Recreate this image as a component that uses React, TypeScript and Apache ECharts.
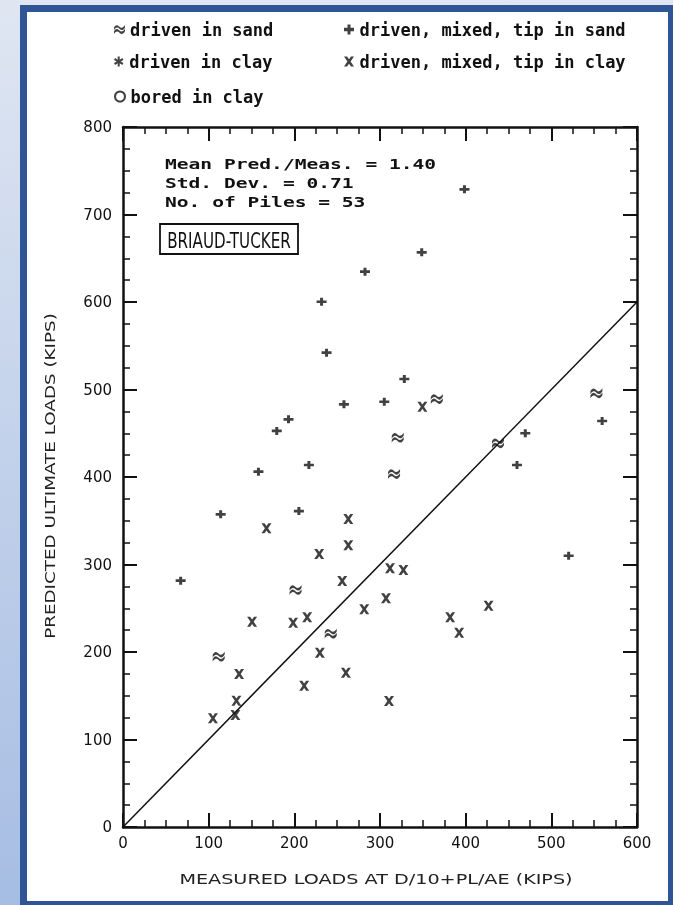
import React, { useEffect, useRef } from 'react';
import * as echarts from 'echarts';

// ---- data (measured load, predicted load) in kips ----
const drivenInSand: number[][] = [
  [111.7, 194.6], [201.4, 270.9], [242.5, 221], [320.7, 444.9],
  [316.4, 403.4], [366.3, 489.1], [437.7, 438.5], [552.6, 495.6],
];
const drivenInClay: number[][] = [];
const boredInClay: number[][] = [];
const mixedTipInSand: number[][] = [
  [67.3, 281.5], [114, 357.4], [158.1, 406.1], [179.5, 452.6], [193.2, 465.9],
  [205.3, 361.1], [217, 413.7], [231.8, 600.3], [237.6, 542.1], [257.9, 483.1],
  [282.5, 634.6], [305, 486], [328.4, 512], [348.7, 656.8], [398.6, 728.8],
  [469.6, 450], [459.9, 413.7], [559.3, 464], [520.2, 310],
];
const mixedTipInClay: number[][] = [
  [105, 124.2], [131.2, 128], [132.4, 144.4], [135.5, 174.9], [150.7, 234.6],
  [167.5, 341.4], [198.6, 233.5], [211.5, 161.5], [215, 239.7], [229.8, 199.2],
  [229, 312], [255.9, 281.1], [260.2, 176.3], [263, 352], [263, 322],
  [281.6, 249], [307, 261.4], [311.7, 295.7], [310.5, 144], [327.3, 293.7],
  [349.5, 480.4], [381.9, 239.7], [392.4, 222.1], [426.7, 253],
];
const equalityLine: number[][] = [[0, 0], [600, 600]];

const seriesNames = [
  'driven in sand',
  'driven, mixed, tip in sand',
  'driven in clay',
  'driven, mixed, tip in clay',
  'bored in clay',
];
const statsLines = ['Mean Pred./Meas. = 1.40', 'Std. Dev. = 0.71', 'No. of Piles = 53'];
const methodLabel = 'BRIAUD-TUCKER';
const xTitle = 'MEASURED LOADS AT D/10+PL/AE (KIPS)';
const yTitle = 'PREDICTED ULTIMATE LOADS (KIPS)';

const INK = '#111';
const MONO = '"DejaVu Sans Mono", "Liberation Mono", monospace';
const SANS = '"DejaVu Sans", sans-serif';

const SYM_SAND =
  'path://M0,4C2,0 4,1 6,3C8,5 10,4 12,1V3.8C10,7.3 8,7.3 6,5.3C4,3.3 2,3.3 0,6.8Z M0,8.2C2,4.2 4,5.2 6,7.2C8,9.2 10,8.2 12,5.2V8C10,11.5 8,11.5 6,9.5C4,7.5 2,7.5 0,11Z';
const SYM_PLUS = 'path://M3.5,0H6.5V3.3H10V6.7H6.5V10H3.5V6.7H0V3.3H3.5Z';
const SYM_X = 'path://M0,0H3L5,2.8L7,0H10L6.6,5L10,10H7L5,7.2L3,10H0L3.4,5Z';
const SYM_STAR =
  'path://M4,0H6V3.3L8.7,1.6L9.7,3.4L7,5L9.7,6.6L8.7,8.4L6,6.7V10H4V6.7L1.3,8.4L0.3,6.6L3,5L0.3,3.4L1.3,1.6L4,3.3Z';

export default function App() {
  const ref = useRef<HTMLDivElement>(null);

  useEffect(() => {
    if (!ref.current) return;
    const chart = echarts.init(ref.current, undefined, { renderer: 'svg' });

    const axisCommon = {
      type: 'value' as const,
      min: 0,
      interval: 100,
      splitLine: { show: false },
      axisLine: { show: true, onZero: false, lineStyle: { color: INK, width: 2.5 } },
      axisTick: { show: true, inside: true, length: 14, lineStyle: { color: INK, width: 2 } },
      minorTick: { show: true, splitNumber: 4, length: 7, lineStyle: { color: INK, width: 1.5 } },
    };
    const labelStyle = { fontFamily: SANS, fontSize: 15, color: INK };

    const legendPos = [
      [114, 21], [344, 21],
      [114, 53], [344, 53],
      [114, 88],
    ];

    chart.setOption({
      animation: false,
      grid: { left: 123, right: 36, top: 127, bottom: 78, containLabel: false },
      xAxis: [
        { ...axisCommon, max: 600, position: 'bottom', axisLabel: { ...labelStyle, margin: 8 } },
        { ...axisCommon, max: 600, position: 'top', axisLabel: { show: false } },
      ],
      yAxis: [
        { ...axisCommon, max: 800, position: 'left', axisLabel: { ...labelStyle, margin: 11 } },
        { ...axisCommon, max: 800, position: 'right', axisLabel: { show: false } },
      ],
      legend: seriesNames.map((n, i) => ({
        data: [n],
        left: legendPos[i][0],
        top: legendPos[i][1],
        padding: 0,
        itemWidth: 11,
        itemHeight: 10,
        selectedMode: false,
        textStyle: { fontFamily: MONO, fontWeight: 'bold', fontSize: 17, color: INK },
      })),
      series: [
        {
          name: '1:1',
          type: 'line',
          data: equalityLine,
          symbol: 'none',
          lineStyle: { color: INK, width: 1.5 },
          z: 1,
          silent: true,
        },
        {
          name: seriesNames[0], type: 'scatter', data: drivenInSand,
          symbol: SYM_SAND, symbolSize: [12, 10], itemStyle: { color: INK }, z: 3,
        },
        {
          name: seriesNames[1], type: 'scatter', data: mixedTipInSand,
          symbol: SYM_PLUS, symbolSize: [10, 8], itemStyle: { color: INK }, z: 3,
        },
        {
          name: seriesNames[2], type: 'scatter', data: drivenInClay,
          symbol: SYM_STAR, symbolSize: 8, itemStyle: { color: INK }, z: 3,
        },
        {
          name: seriesNames[3], type: 'scatter', data: mixedTipInClay,
          symbol: SYM_X, symbolSize: [10, 10], itemStyle: { color: INK }, z: 3,
        },
        {
          name: seriesNames[4], type: 'scatter', data: boredInClay,
          symbol: 'emptyCircle', symbolSize: 8, itemStyle: { color: INK, borderWidth: 2 }, z: 3,
        },
      ],
      graphic: [
        {
          type: 'rect', z: -200, silent: true,
          shape: { x: 0, y: 0, width: 673, height: 905 },
          style: {
            fill: {
              type: 'linear', x: 0, y: 0, x2: 0, y2: 1,
              colorStops: [
                { offset: 0, color: '#dfe6f2' },
                { offset: 1, color: '#a6bde3' },
              ],
            },
          },
        },
        {
          type: 'rect', z: -100, silent: true,
          shape: { x: 23.5, y: 8.5, width: 648, height: 896 },
          style: { fill: '#ffffff', stroke: '#2f5597', lineWidth: 7 },
        },
        ...statsLines.map((t, i) => ({
          type: 'text', x: 165, y: 164 + i * 19, scaleX: 1.4, silent: true,
          style: {
            text: t, fill: INK, font: `bold 14px ${MONO}`,
            textAlign: 'left', textVerticalAlign: 'middle',
          },
        })),
        {
          type: 'rect', silent: true,
          shape: { x: 160, y: 224, width: 138, height: 30 },
          style: { fill: 'transparent', stroke: INK, lineWidth: 1.8 },
        },
        {
          type: 'text', x: 229, y: 240, scaleX: 0.69, silent: true,
          style: {
            text: methodLabel, fill: INK, font: `22px ${SANS}`,
            textAlign: 'center', textVerticalAlign: 'middle',
          },
        },
        {
          type: 'text', x: 376, y: 879, scaleX: 1.37, silent: true,
          style: {
            text: xTitle, fill: '#222', font: `14px ${SANS}`,
            textAlign: 'center', textVerticalAlign: 'middle',
          },
        },
        {
          type: 'text', x: 50, y: 476, rotation: Math.PI / 2, scaleX: 1.31, silent: true,
          style: {
            text: yTitle, fill: '#222', font: `14px ${SANS}`,
            textAlign: 'center', textVerticalAlign: 'middle',
          },
        },
      ],
    });

    return () => chart.dispose();
  }, []);

  return (
    <div
      ref={ref}
      style={{ position: 'fixed', left: 0, top: 0, width: 673, height: 905 }}
    />
  );
}
